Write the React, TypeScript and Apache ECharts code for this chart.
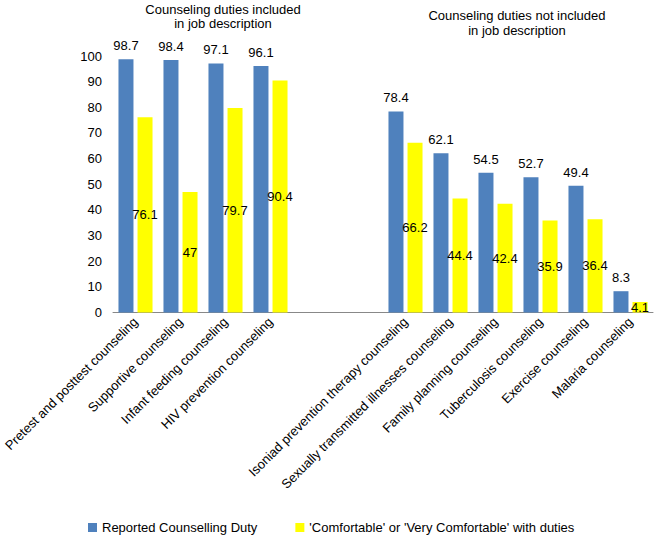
import React, { useEffect, useRef } from "react";
import * as echarts from "echarts";

const categories = [
  "Pretest and posttest counseling",
  "Supportive counseling",
  "Infant feeding counseling",
  "HIV prevention counseling",
  "",
  "",
  "Isoniad prevention therapy counseling",
  "Sexually transmitted illnesses counseling",
  "Family planning counseling",
  "Tuberculosis counseling",
  "Exercise counseling",
  "Malaria counseling",
];
const reported = [98.7, 98.4, 97.1, 96.1, null, null, 78.4, 62.1, 54.5, 52.7, 49.4, 8.3];
const comfortable = [76.1, 47, 79.7, 90.4, null, null, 66.2, 44.4, 42.4, 35.9, 36.4, 4.1];
const seriesNames = ["Reported Counselling Duty", "'Comfortable' or 'Very Comfortable' with duties"];
const groupTitles = [
  "Counseling duties included\nin job description",
  "Counseling duties not included\nin job description",
];

const FONT = "Liberation Sans, Arial, sans-serif";

export default function App() {
  const ref = useRef<HTMLDivElement>(null);
  useEffect(() => {
    if (!ref.current) return;
    const chart = echarts.init(ref.current, null, { renderer: "svg" });
    const titleStyle = { fontSize: 13, fontWeight: "normal", color: "#000", lineHeight: 14, fontFamily: FONT };
    chart.setOption({
      animation: false,
      textStyle: { fontFamily: FONT },
      title: [
        { text: groupTitles[0], left: 223, top: 2, padding: 0, textAlign: "center", textStyle: titleStyle },
        { text: groupTitles[1], left: 517, top: 8, padding: 0, textAlign: "center", textStyle: { ...titleStyle, lineHeight: 15 } },
      ],
      legend: {
        bottom: 3,
        left: 88,
        padding: 0,
        itemWidth: 9,
        itemHeight: 9,
        itemGap: 38,
        icon: "rect",
        textStyle: { fontSize: 13, color: "#000", fontFamily: FONT },
        data: seriesNames,
      },
      grid: { left: 113, right: 5, top: 56, bottom: 224.5 },
      xAxis: {
        type: "category",
        data: categories,
        axisLine: { lineStyle: { color: "#888" } },
        axisTick: { show: false },
        axisLabel: { rotate: 45, interval: 0, fontSize: 13, color: "#000", margin: 7, fontFamily: FONT },
      },
      yAxis: {
        type: "value",
        min: 0,
        max: 100,
        interval: 10,
        splitLine: { show: false },
        axisLine: { show: false },
        axisTick: { show: false },
        axisLabel: { fontSize: 13, color: "#000", margin: 11, fontFamily: FONT },
      },
      series: [
        {
          name: seriesNames[0],
          type: "bar",
          data: reported,
          barWidth: 15,
          barGap: "27%",
          itemStyle: { color: "#4F81BD" },
          label: { show: true, position: "top", distance: 7, fontSize: 13, color: "#000", fontFamily: FONT },
        },
        {
          name: seriesNames[1],
          type: "bar",
          data: comfortable,
          barWidth: 15,
          itemStyle: { color: "#FFFF00" },
          label: { show: true, position: "inside", fontSize: 13, color: "#000", fontFamily: FONT },
        },
      ],
    });
    return () => chart.dispose();
  }, []);
  return (
    <div
      ref={ref}
      style={{ position: "absolute", left: 0, top: 0, width: 658, height: 537, background: "#fff" }}
    />
  );
}
